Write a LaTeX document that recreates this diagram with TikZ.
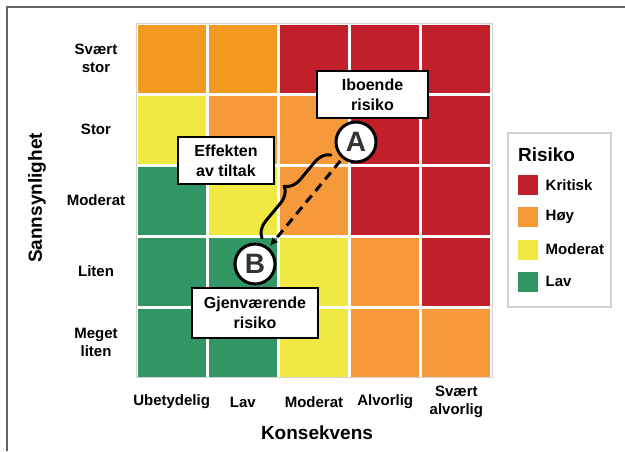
\documentclass[tikz,border=0pt]{standalone}
\usepackage{fontspec}
\setmainfont{Liberation Sans}
\usetikzlibrary{arrows.meta,decorations.pathreplacing}
\definecolor{rkkrit}{RGB}{193,32,42}
\definecolor{rkhoy}{RGB}{245,153,58}
\definecolor{rkhoytop}{RGB}{243,153,32}
\definecolor{rkmod}{RGB}{239,233,65}
\definecolor{rklav}{RGB}{50,150,100}
\definecolor{rkdark}{RGB}{51,51,51}
\definecolor{rkframe}{RGB}{100,100,100}
\definecolor{rkgrid}{RGB}{210,210,210}

\begin{document}
\begin{tikzpicture}[
  x=1pt, y=-1pt,
  cell/.style={rectangle, minimum width=68pt, minimum height=68pt, inner sep=0pt},
  axislabel/.style={align=center, font=\fontsize{15}{18}\selectfont\bfseries},
  axistitle/.style={font=\fontsize{19}{22}\selectfont\bfseries},
  callout/.style={rectangle, draw=black, line width=1.5pt, fill=white, align=center, font=\fontsize{16}{20}\selectfont\bfseries},
  marker/.style={circle, draw=black, line width=3pt, fill=white, minimum size=40pt, inner sep=0pt, text=rkdark, font=\fontsize{28}{28}\selectfont\bfseries},
  swatch/.style={rectangle, minimum size=20pt, inner sep=0pt},
  arrow/.style={-{Latex[length=8pt,width=8pt]}, line width=3pt, dash pattern=on 9pt off 6pt, shorten <=3pt, shorten >=2pt},
  bracket/.style={decorate, decoration={brace, amplitude=16pt}, line width=3pt, line cap=round, line join=round}
]
\useasboundingbox (0,0) rectangle (625,451);

% Frame
\draw[rkframe, line width=1.5pt] (7,451) -- (7,7) -- (625,7);

% Matrix - rows from top (Svaert stor) to bottom (Meget liten)
\draw[rkgrid, line width=1pt] (136,23) rectangle (492,377);
\foreach \ca/\cb/\cc/\cd/\ce [count=\r] in {hoytop/hoytop/krit/krit/krit, mod/hoy/hoy/krit/krit, lav/mod/hoy/krit/krit, lav/lav/mod/hoy/krit, lav/lav/mod/hoy/hoy}
  \foreach \c [count=\k] in {\ca,\cb,\cc,\cd,\ce}
    \node[cell, fill=rk\c] (c\r\k) at ({136+71.2*(\k-0.5)}, {23+71*(\r-0.5)}) {};

% Axis labels
\foreach \t [count=\r] in {Svært\\stor, Stor, Moderat, Liten, Meget\\liten}
  \node[axislabel] (y\r) at (96, {23+71*(\r-0.5)}) {\t};
\foreach \t [count=\k] in {Ubetydelig, Lav, Moderat, Alvorlig, Svært\\alvorlig}
  \node[axislabel] (x\k) at ({136+71.2*(\k-0.5)}, 402) {\t};
\node[axistitle] (xtitle) at (317,433) {Konsekvens};
\node[axistitle, rotate=90] (ytitle) at (37,198) {Sannsynlighet};

% Legend
\node[draw=rkgrid, line width=1.5pt, minimum width=103pt, minimum height=174pt] (legend) at (559.5,220) {};
\node[axistitle, anchor=west] (legtitle) at (514.5,155) {Risiko};
\foreach \c/\t [count=\i] in {krit/Kritisk, hoy/Høy, mod/Moderat, lav/Lav} {
  \node[swatch, fill=rk\c] (s\i) at (528, {185+32.3*(\i-1)}) {};
  \node[axislabel, anchor=west] (l\i) at ([xshift=4pt]s\i.east) {\t};
}

% Callouts
\node[callout, minimum width=111pt, minimum height=47pt] (iboende) at (372.5,94.5) {Iboende\\risiko};
\node[callout, minimum width=96pt, minimum height=47pt] (effekt) at (226,160.5) {Effekten\\av tiltak};
\node[callout, minimum width=126pt, minimum height=50pt] (gjenv) at (255,313) {Gjenværende\\risiko};

% Risk before and after
\node[marker] (A) at (356,142) {A};
\node[marker] (B) at (255,264) {B};
\draw[arrow] (A) -- (B);

% Brace
\coordinate (bracelow) at (262,238);
\coordinate (bracehigh) at (331,155);
\draw[bracket] (bracelow) -- (bracehigh);

\end{tikzpicture}
\end{document}
